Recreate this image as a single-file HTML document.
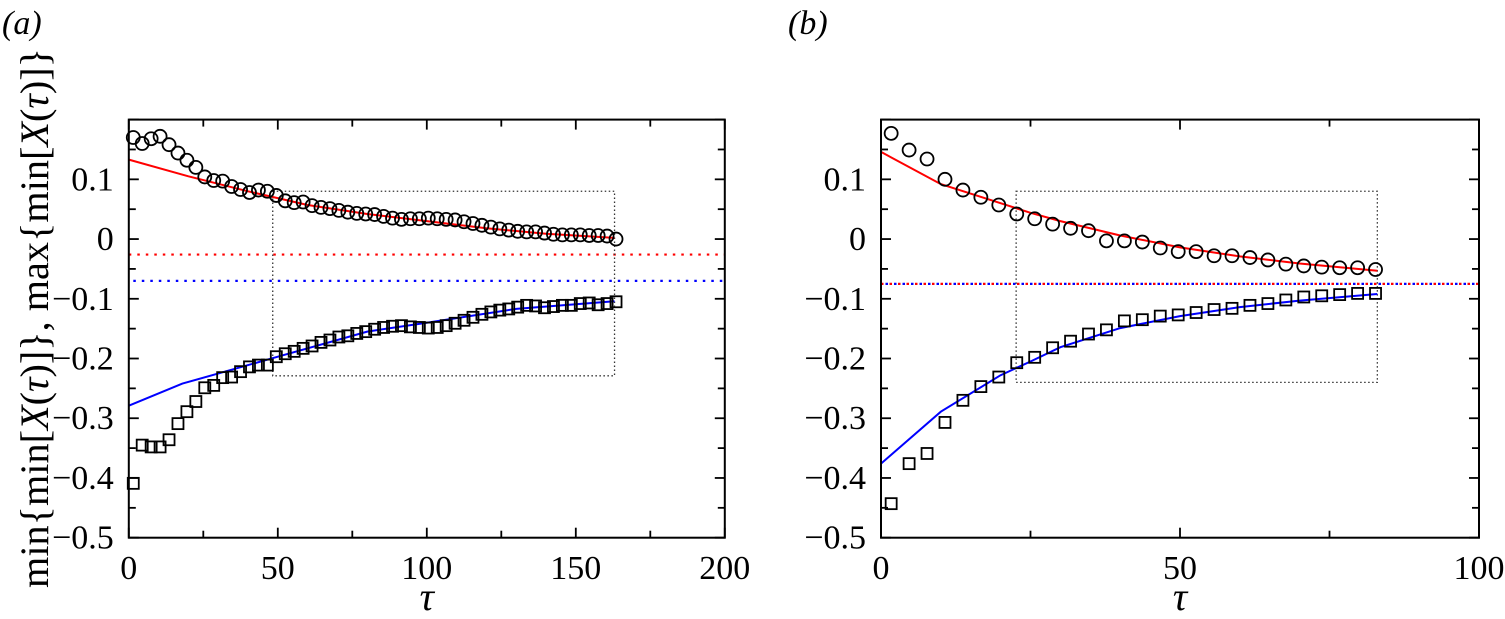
<!DOCTYPE html>
<html><head><meta charset="utf-8"><style>
html,body{margin:0;padding:0;background:#fff;}
svg{display:block;font-family:"Liberation Serif",serif;}
</style></head><body>
<svg id="chart" width="1505" height="619" viewBox="0 0 1505 619" xmlns="http://www.w3.org/2000/svg">
<text x="2" y="34" font-size="34" font-style="italic">(a)</text>
<text x="788" y="34" font-size="34" font-style="italic">(b)</text>
<text transform="translate(48,318) rotate(-90)" text-anchor="middle" font-size="40" textLength="540" lengthAdjust="spacingAndGlyphs">min{min[<tspan font-style="italic">X</tspan>(<tspan font-style="italic">τ</tspan>)]}, max{min[<tspan font-style="italic">X</tspan>(<tspan font-style="italic">τ</tspan>)]}</text>
</svg>
<script>
// Panel (a) data
const tauA = [1.5,4.5,7.5,10.5,13.5,16.5,19.5,22.5,25.5,28.5,31.5,34.5,37.5,40.5,43.5,46.5,49.5,52.5,55.5,58.5,61.5,64.5,67.5,70.5,73.5,76.5,79.5,82.5,85.5,88.5,91.5,94.5,97.5,100.5,103.5,106.5,109.5,112.5,115.5,118.5,121.5,124.5,127.5,130.5,133.5,136.5,139.5,142.5,145.5,148.5,151.5,154.5,157.5,160.5,163.5];
const maxA = [0.170,0.160,0.168,0.172,0.158,0.144,0.132,0.120,0.104,0.098,0.097,0.088,0.083,0.078,0.082,0.080,0.073,0.064,0.061,0.062,0.056,0.053,0.051,0.048,0.045,0.043,0.042,0.041,0.038,0.035,0.033,0.034,0.034,0.035,0.034,0.033,0.032,0.029,0.026,0.023,0.020,0.017,0.015,0.013,0.012,0.012,0.010,0.008,0.007,0.007,0.007,0.006,0.006,0.005,0.000];
const minA = [-0.409,-0.345,-0.348,-0.348,-0.336,-0.309,-0.289,-0.272,-0.249,-0.245,-0.232,-0.231,-0.222,-0.214,-0.211,-0.211,-0.197,-0.192,-0.188,-0.183,-0.179,-0.173,-0.169,-0.164,-0.162,-0.158,-0.155,-0.151,-0.148,-0.146,-0.145,-0.147,-0.148,-0.149,-0.148,-0.145,-0.141,-0.136,-0.131,-0.126,-0.122,-0.119,-0.117,-0.114,-0.111,-0.112,-0.115,-0.113,-0.111,-0.111,-0.108,-0.107,-0.110,-0.108,-0.105];
const fitTauA = [0,20,40,60,80,100,120,140,163];
const fitMaxA = [0.133,0.105,0.080,0.057,0.042,0.030,0.018,0.009,0.002];
const fitMinTauA = [0,18,50,80,100,130,163];
const fitMinA = [-0.279,-0.242,-0.197,-0.155,-0.140,-0.117,-0.104];
const refA = [-0.026,-0.070];
const boxA = [48.3,163,0.080,-0.229];
const xTicksA = [0,50,100,150,200];
// Panel (b) data
const tauB = [1.7,4.7,7.7,10.7,13.7,16.7,19.7,22.7,25.7,28.7,31.7,34.7,37.7,40.7,43.7,46.7,49.7,52.7,55.7,58.7,61.7,64.7,67.7,70.7,73.7,76.7,79.7,82.7];
const maxB = [0.177,0.149,0.134,0.100,0.082,0.070,0.057,0.042,0.034,0.025,0.018,0.014,-0.003,-0.003,-0.005,-0.015,-0.021,-0.021,-0.028,-0.028,-0.031,-0.035,-0.042,-0.045,-0.047,-0.048,-0.048,-0.051];
const minB = [-0.443,-0.376,-0.359,-0.307,-0.270,-0.247,-0.231,-0.207,-0.198,-0.182,-0.171,-0.159,-0.152,-0.137,-0.135,-0.129,-0.127,-0.123,-0.118,-0.116,-0.111,-0.108,-0.102,-0.097,-0.095,-0.093,-0.091,-0.091];
const fitTauB = [0,10,20,25,30,40,50,60,70,83];
const fitMaxB = [0.146,0.092,0.060,0.044,0.030,0.006,-0.014,-0.029,-0.041,-0.053];
const fitMinB = [-0.376,-0.289,-0.228,-0.205,-0.181,-0.149,-0.129,-0.114,-0.103,-0.092];
const refB = [-0.075,-0.075];
const boxB = [22.6,83,0.080,-0.240];
const xTicksB = [0,50,100];
const yTicks = [0.1,0,-0.1,-0.2,-0.3,-0.4,-0.5];

const svg = document.getElementById('chart');
const NS = 'http://www.w3.org/2000/svg';
function mk(tag, attrs){const e=document.createElementNS(NS,tag);for(const k in attrs)e.setAttribute(k,attrs[k]);svg.appendChild(e);return e;}
const Y0=537.7, Y1=119.6;
function yS(v){return Y0-(v+0.5)/0.7*(Y0-Y1);}

function panel(p){
  const L=p.left,R=p.right;
  const xS=t=>L+t/p.xmax*(R-L);
  const pts=(xs,ys)=>xs.map((t,i)=>xS(t).toFixed(1)+','+yS(ys[i]).toFixed(1)).join(' ');
  const rc=['#f00','#00f'];
  p.ref.forEach((v,i)=>{
    const e=mk('line',{x1:L,x2:R,y1:yS(v),y2:yS(v),stroke:rc[i],'stroke-width':2.2,'stroke-dasharray':'2.5 6','stroke-dashoffset':i*4});
    
    
  });
  const b=mk('rect',{x:xS(p.box[0]),y:yS(p.box[2]),width:xS(p.box[1])-xS(p.box[0]),height:yS(p.box[3])-yS(p.box[2]),fill:'none',stroke:'#333','stroke-width':1.3,'stroke-dasharray':'1.5 2.5'});
  
  
  const f1=mk('polyline',{points:pts(p.ft,p.fmax),fill:'none',stroke:'#f00','stroke-width':2});
  
  
  const f2=mk('polyline',{points:pts(p.ft2,p.fmin),fill:'none',stroke:'#00f','stroke-width':2});
  
  
  p.tau.forEach((t,i)=>{
    const c=mk('circle',{cx:xS(t),cy:yS(p.max[i]),r:6.5,fill:'none',stroke:'#000','stroke-width':1.8});
    
    
    const s=mk('rect',{x:xS(t)-5.5,y:yS(p.min[i])-5.5,width:11,height:11,fill:'none',stroke:'#000','stroke-width':1.8});
    
    
  });
  const fr=mk('rect',{x:L,y:Y1,width:R-L,height:Y0-Y1,fill:'none',stroke:'#000','stroke-width':2});
  
  
  for(let k=0;k<=14;k++){
    const v=-0.5+k*0.05, y=yS(v), len=(k%2===0)?10:7;
    mk('line',{x1:L,x2:L+len,y1:y,y2:y,stroke:'#000','stroke-width':1.8});
    mk('line',{x1:R,x2:R-len,y1:y,y2:y,stroke:'#000','stroke-width':1.8});
  }
  yTicks.forEach(v=>{
    const t=mk('text',{x:L-15,y:yS(v)+11,'text-anchor':'end','font-size':34});
    t.textContent=(v<0?'\u2212':'')+(v===0?'0':Math.abs(v).toFixed(1));
    
    
  });
  const step=p.xticks[1]-p.xticks[0];
  for(let v=0;v<=p.xmax+1e-9;v+=step/2){
    const x=xS(v), major=Math.abs(v/step-Math.round(v/step))<1e-9, len=major?10:7;
    mk('line',{x1:x,x2:x,y1:Y0,y2:Y0-len,stroke:'#000','stroke-width':1.8});
    mk('line',{x1:x,x2:x,y1:Y1,y2:Y1+len,stroke:'#000','stroke-width':1.8});
  }
  p.xticks.forEach(v=>{
    const t=mk('text',{x:xS(v),y:579,'text-anchor':'middle','font-size':34});
    t.textContent=String(v);
    
    
  });
  const xt=mk('text',{x:(L+R)/2,y:610,'text-anchor':'middle','font-size':40,'font-style':'italic'});
  xt.textContent='τ';
  
  
}
panel({id:'panel-a',left:128.8,right:724.8,xmax:200,tau:tauA,max:maxA,min:minA,ft:fitTauA,fmax:fitMaxA,ft2:fitMinTauA,fmin:fitMinA,ref:refA,box:boxA,xticks:xTicksA});
panel({id:'panel-b',left:881,right:1479,xmax:100,tau:tauB,max:maxB,min:minB,ft:fitTauB,fmax:fitMaxB,ft2:fitTauB,fmin:fitMinB,ref:refB,box:boxB,xticks:xTicksB});
</script>
</body></html>
